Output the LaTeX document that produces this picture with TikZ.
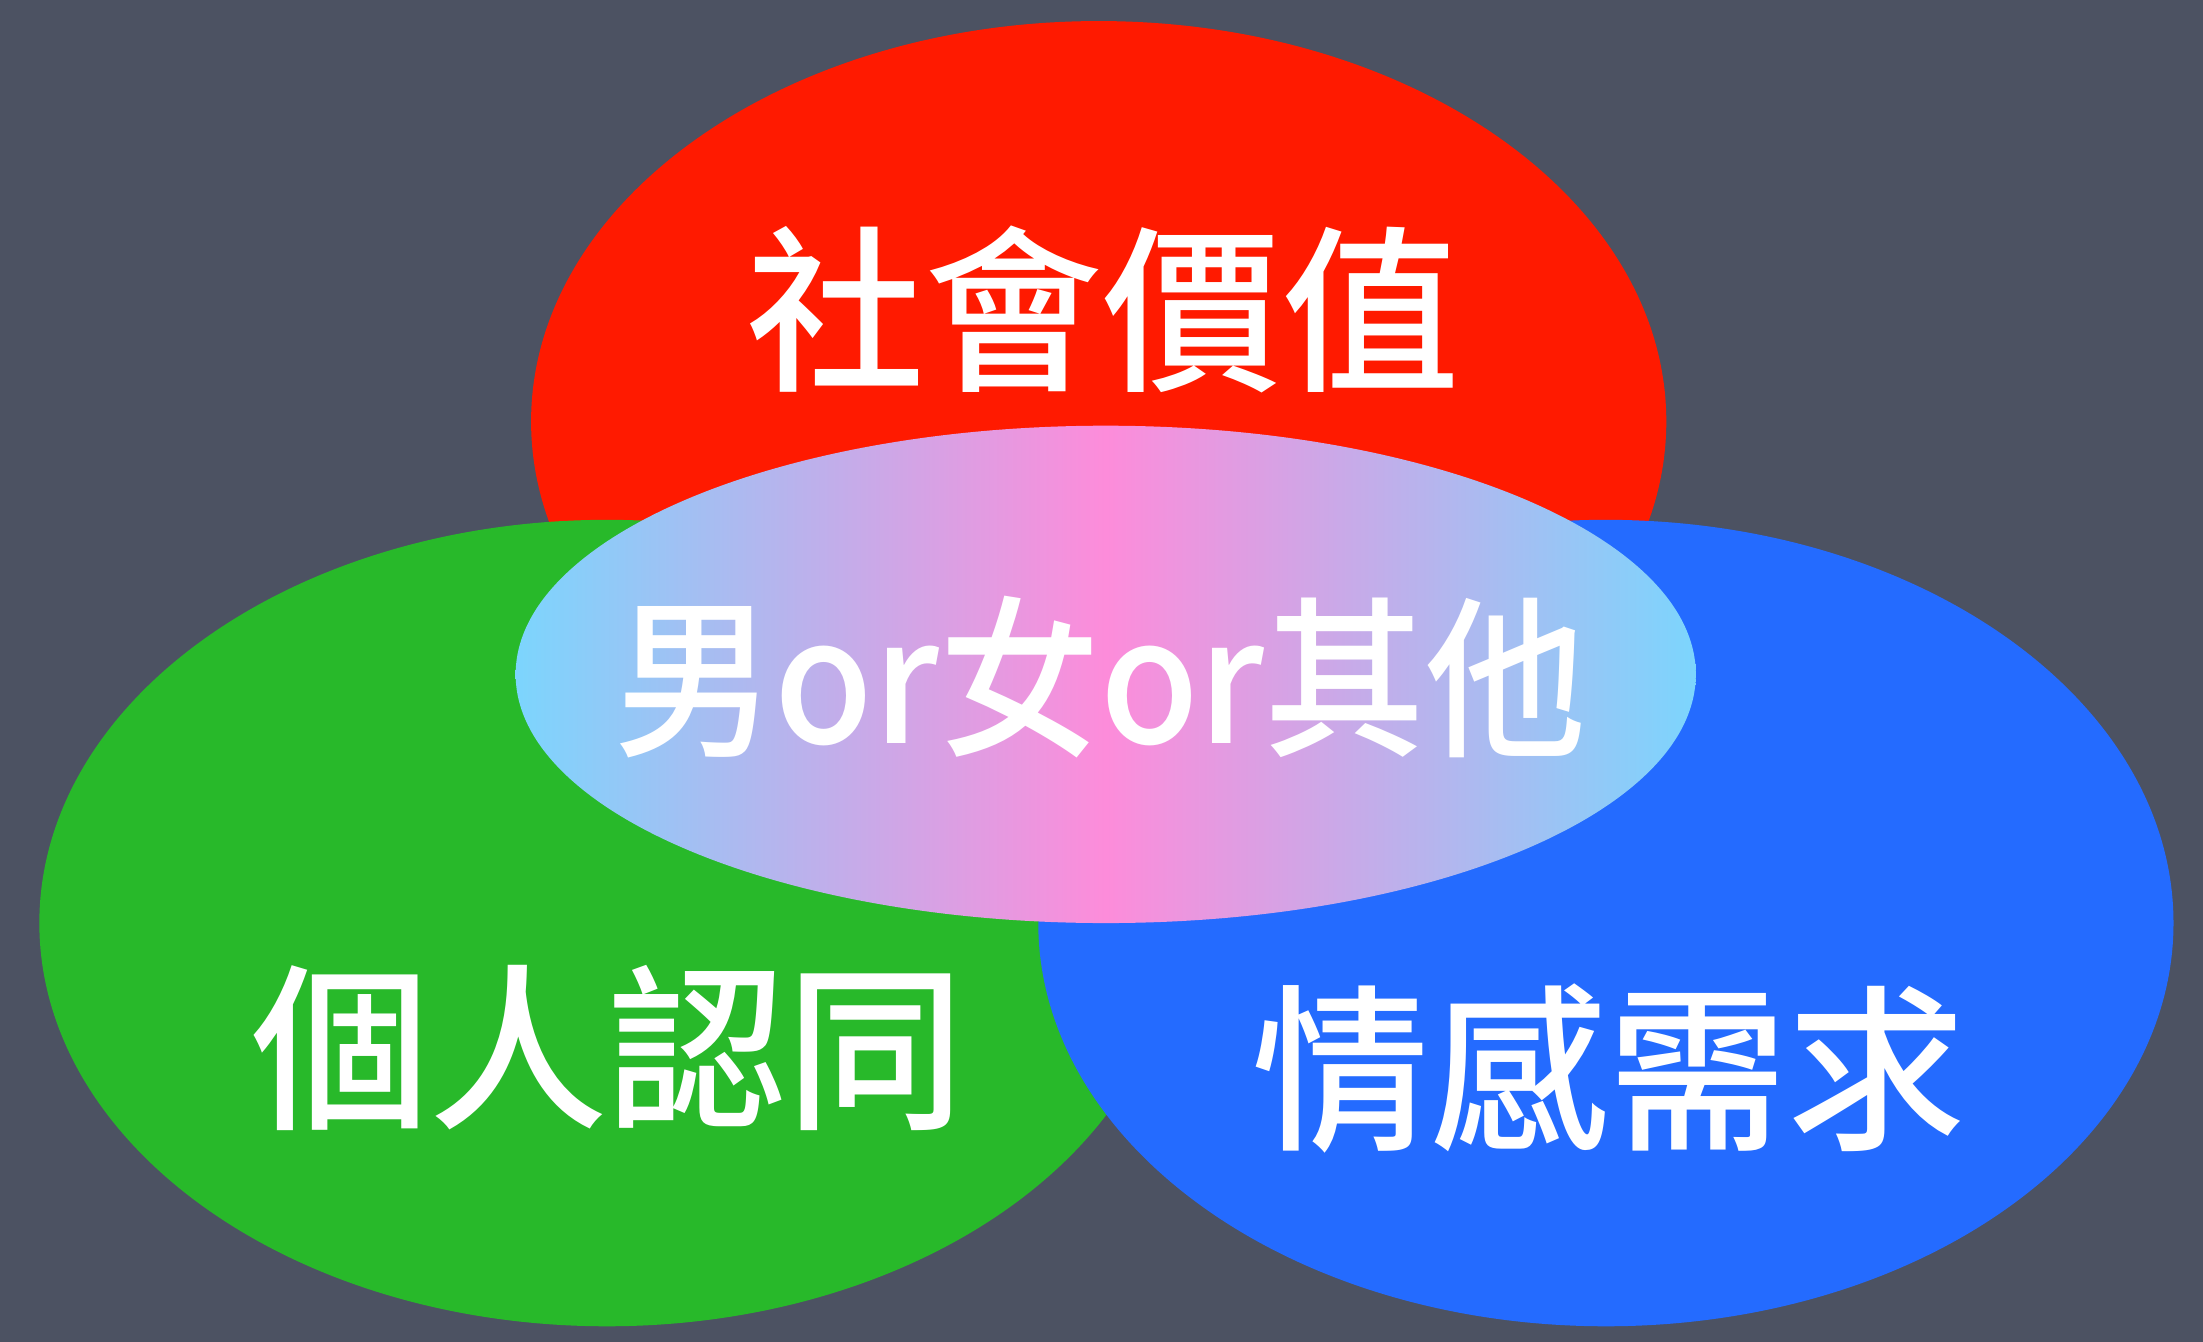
\documentclass[tikz,border=0pt]{standalone}
\usepackage{fontspec}
\newfontfamily\cjk[UprightFont={* Medium}]{Noto Sans CJK TC}
\definecolor{board}{HTML}{4C5262}
\definecolor{vred}{HTML}{FF1A00}
\definecolor{vgreen}{HTML}{28B92A}
\definecolor{vblue}{HTML}{246BFF}
\definecolor{lblue}{HTML}{7CD5FD}
\definecolor{lpink}{HTML}{FD8CDA}
\tikzset{
  biglabel/.style={text=white, inner sep=0pt, anchor=base, font=\cjk\fontsize{127pt}{130pt}\selectfont},
  midlabel/.style={text=white, inner sep=0pt, anchor=base, font=\cjk\fontsize{123pt}{126pt}\selectfont},
}
\begin{document}
\begin{tikzpicture}[x=1pt,y=1pt]
\useasboundingbox (0,0) rectangle (1568,955);
\fill[board] (0,0) rectangle (1568,955);
\fill[vred] (782,655) ellipse [x radius=404pt, y radius=285pt];
\fill[vgreen] (432,298) ellipse [x radius=404pt, y radius=287pt];
\fill[vblue] (1143,298) ellipse [x radius=404pt, y radius=287pt];
\shade[left color=lblue, right color=lblue, middle color=lpink, shading angle=90] (787,475) ellipse [x radius=420pt, y radius=177pt];
\node[biglabel] (social) at (785,686) {社會價值};
\node[midlabel] (gender) at (783,426) {\scalebox{0.93}[1]{男or女or其他}};
\node[biglabel] (personal) at (433,161) {個人認同};
\node[biglabel] (emotion) at (1145,146) {情感需求};
\end{tikzpicture}
\end{document}
